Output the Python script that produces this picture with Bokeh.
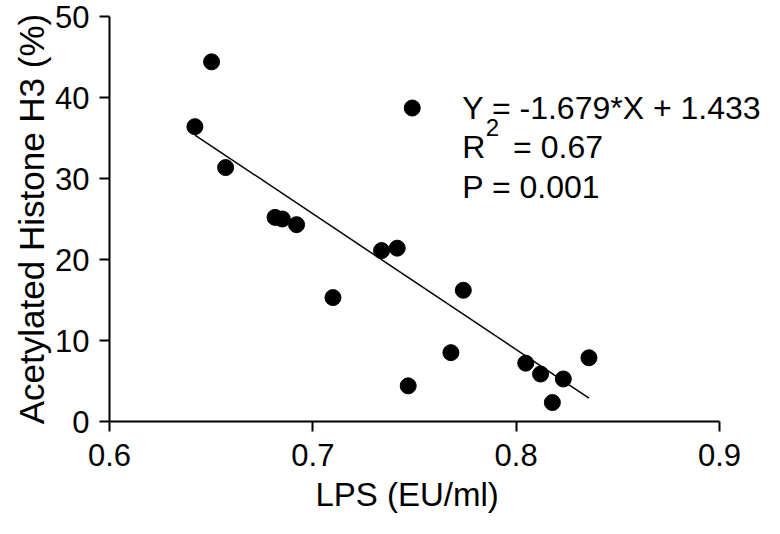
from bokeh.plotting import figure
from bokeh.models import Range1d, FixedTicker, PrintfTickFormatter, Label, Title
from bokeh.embed import file_html
from bokeh.resources import INLINE

# Data
lps = [0.6420, 0.6502, 0.6571, 0.6814, 0.6850, 0.6920, 0.7099, 0.7338, 0.7415,
       0.7469, 0.7489, 0.7679, 0.7740, 0.8047, 0.8120, 0.8178, 0.8232, 0.8358]
h3 = [36.4, 44.4, 31.35, 25.2, 25.0, 24.3, 15.3, 21.1, 21.4,
      4.4, 38.7, 8.5, 16.2, 7.2, 5.86, 2.34, 5.25, 7.87]
fit_x = [0.642, 0.8358]
fit_y = [35.37, 2.88]
x_ticks = [0.6, 0.7, 0.8, 0.9]
y_ticks = [0, 10, 20, 30, 40, 50]
x_title = "LPS (EU/ml)"
y_title = "Acetylated Histone H3 (%)"
eq_text = "Y = -1.679*X + 1.433"
r2_value = "= 0.67"
p_text = "P = 0.001"

FONT = "Liberation Sans"

# axis spans 0.6-0.9 over 610 px; frame extended 45 px to the right so the
# annotation text is not clipped
x_end = 0.9 + 0.3 * 45 / 610

p = figure(width=764, height=518, output_backend="svg", toolbar_location=None,
           x_range=Range1d(0.6, x_end), y_range=Range1d(0, 50),
           min_border_left=109, min_border_right=0, min_border_top=16, min_border_bottom=97)
p.outline_line_color = None
p.grid.visible = False
p.background_fill_color = "white"

p.line(fit_x, fit_y, line_color="black", line_width=1.5)
p.scatter(lps, h3, size=16, fill_color="black", line_color="black")

for ax in (p.xaxis[0], p.yaxis[0]):
    ax.axis_line_width = 2
    ax.major_tick_line_width = 2
    ax.major_tick_in = 0
    ax.major_tick_out = 10
    ax.minor_tick_line_color = None
    ax.major_label_text_font = FONT
    ax.major_label_text_font_size = "31px"
    ax.major_label_text_color = "black"
    ax.axis_label_text_font = FONT
    ax.axis_label_text_font_size = "35px"
    ax.axis_label_text_font_style = "normal"
    ax.axis_label_text_color = "black"

p.xaxis.bounds = (0.6, 0.9)
p.xaxis.major_label_standoff = 12
p.yaxis.major_label_standoff = 10
p.xaxis.ticker = FixedTicker(ticks=x_ticks)
p.yaxis.ticker = FixedTicker(ticks=y_ticks)
p.xaxis.formatter = PrintfTickFormatter(format="%.1f")
p.yaxis.formatter = PrintfTickFormatter(format="%d")
p.yaxis.axis_label = y_title
p.yaxis.axis_label_standoff = 1

# x-axis title centred under the 0.6-0.9 axis (not the extended frame)
p.add_layout(Title(text=x_title, align="left", offset=206,
                   text_font=FONT, text_font_size="33px", text_font_style="normal",
                   text_color="black"), "below")

def lab(x, y, t, size):
    p.add_layout(Label(x=x, y=y, text=t, text_font=FONT, text_font_size=size,
                       text_color="black", text_baseline="alphabetic", text_align="left"))

lab(0.7735, 38.73, eq_text, "32px")
lab(0.7735, 33.9, "R", "32px")
lab(0.7850, 36.3, "2", "24px")
lab(0.7985, 33.9, r2_value, "32px")
lab(0.7735, 28.95, p_text, "32px")

open("out.html", "w").write(file_html(p, INLINE))
